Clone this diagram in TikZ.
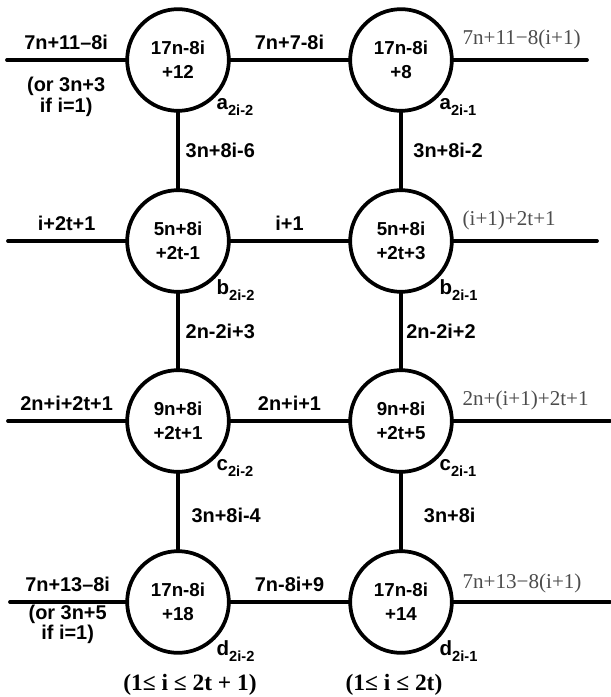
\documentclass[tikz,border=0pt]{standalone}
\usepackage{fontspec}
\setmainfont{Liberation Sans}
\newfontfamily\timesfont{Liberation Serif}
\usetikzlibrary{positioning}
% lowered index after the vertex letter
\newcommand{\tagsub}[1]{\raisebox{-5pt}{\fontsize{12.5}{12.5}\selectfont #1}}
\begin{document}
\begin{tikzpicture}[x=1cm,y=1cm,
  vertex/.style={draw, circle, line width=3.2pt, minimum size=3.05cm, inner sep=0pt,
    align=center, label distance=3pt, font=\fontsize{16}{20.5}\selectfont\bfseries},
  edge/.style={line width=3.2pt, line cap=round},
  wt/.style={font=\fontsize{17}{17.5}\selectfont\bfseries, inner sep=0pt},
  faint/.style={font=\fontsize{18}{20}\timesfont, text=black!70, inner sep=0pt},
  tag/.style={font=\fontsize{17.5}{20}\selectfont\bfseries, inner sep=1pt},
  idxrange/.style={font=\fontsize{20}{24}\timesfont\bfseries}]
\useasboundingbox (0,0) rectangle (18.3,-20.91);

% the eight vertices
\node[vertex, label={[tag]-45:a\tagsub{2i-2}}] (a1) at (5.34,-1.8) {17n-8i\\+12};
\node[vertex, label={[tag]-45:a\tagsub{2i-1}}] (a2) at (12.03,-1.8) {17n-8i\\+8};
\node[vertex, label={[tag]-45:b\tagsub{2i-2}}] (b1) at (5.34,-7.23) {5n+8i\\+2t-1};
\node[vertex, label={[tag]-45:b\tagsub{2i-1}}] (b2) at (12.03,-7.23) {5n+8i\\+2t+3};
\node[vertex, label={[tag]-45:c\tagsub{2i-2}}] (c1) at (5.34,-12.63) {9n+8i\\+2t+1};
\node[vertex, label={[tag]-45:c\tagsub{2i-1}}] (c2) at (12.03,-12.63) {9n+8i\\+2t+5};
\node[vertex, label={[tag]-45:d\tagsub{2i-2}}] (d1) at (5.34,-18.06) {17n-8i\\+18};
\node[vertex, label={[tag]-45:d\tagsub{2i-1}}] (d2) at (12.03,-18.06) {17n-8i\\+14};

% loose ends to the neighbouring blocks
\coordinate (a0) at (0.21,-1.8);   \coordinate (a3) at (17.61,-1.8);
\coordinate (b0) at (0.24,-7.23);  \coordinate (b3) at (17.91,-7.23);
\coordinate (c0) at (0.24,-12.63); \coordinate (c3) at (18.3,-12.63);
\coordinate (d0) at (0.3,-18.06);  \coordinate (d3) at (18.3,-18.06);

% row a
\draw[edge] (a0) -- node[wt, above=7pt] (wa0) {7n+11–8i}
  node[wt, below=13pt, align=center] (wa0x) {(or 3n+3\\if i=1)} (a1);
\draw[edge] (a1) -- node[wt, above=7pt] (wa1) {7n+7-8i} (a2);
\draw[edge] (a2) -- node[faint, pos=0, above right=8pt and 6pt] (wa2) {7n+11−8(i+1)} (a3);
\draw[edge] (a1) -- node[wt, right=5pt] (wab1) {3n+8i-6} (b1);
\draw[edge] (a2) -- node[wt, right=9pt] (wab2) {3n+8i-2} (b2);

% row b
\draw[edge] (b0) -- node[wt, above=7pt] (wb0) {i+2t+1} (b1);
\draw[edge] (b1) -- node[wt, above=7pt] (wb1) {i+1} (b2);
\draw[edge] (b2) -- node[faint, pos=0, above right=8pt and 6pt] (wb2) {(i+1)+2t+1} (b3);
\draw[edge] (b1) -- node[wt, right=5pt] (wbc1) {2n-2i+3} (c1);
\draw[edge] (b2) -- node[wt, right=3pt] (wbc2) {2n-2i+2} (c2);

% row c
\draw[edge] (c0) -- node[wt, above=7pt] (wc0) {2n+i+2t+1} (c1);
\draw[edge] (c1) -- node[wt, above=7pt] (wc1) {2n+i+1} (c2);
\draw[edge] (c2) -- node[faint, pos=0, above right=8pt and 6pt] (wc2) {2n+(i+1)+2t+1} (c3);
\draw[edge] (c1) -- node[wt, pos=0.55, right=10pt] (wcd1) {3n+8i-4} (d1);
\draw[edge] (c2) -- node[wt, pos=0.55, right=18pt] (wcd2) {3n+8i} (d2);

% row d
\draw[edge] (d0) -- node[wt, above=7pt] (wd0) {7n+13–8i}
  node[wt, below=1pt, align=center] (wd0x) {(or 3n+5\\if i=1)} (d1);
\draw[edge] (d1) -- node[wt, above=7pt] (wd1) {7n-8i+9} (d2);
\draw[edge] (d2) -- node[faint, pos=0, above right=6pt and 6pt] (wd2) {7n+13−8(i+1)} (d3);

% index ranges of the two columns
\node[idxrange] (r1) at (5.7,-20.55) {(1≤ i ≤ 2t + 1)};
\node[idxrange] (r2) at (11.82,-20.55) {(1≤ i ≤ 2t)};
\end{tikzpicture}
\end{document}
